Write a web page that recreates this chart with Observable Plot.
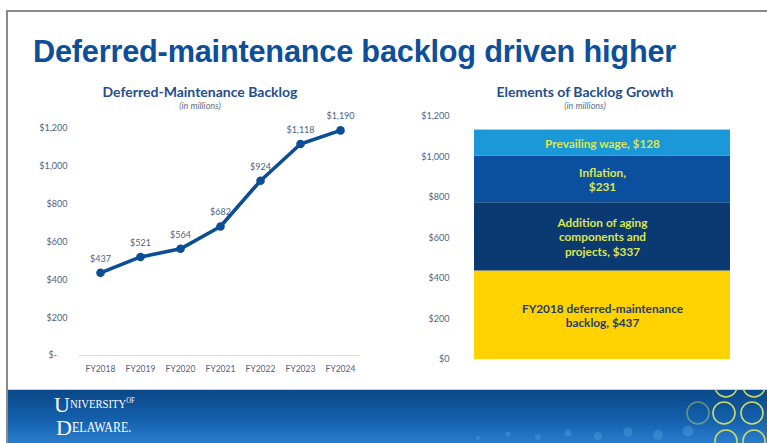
<!DOCTYPE html>
<html>
<head>
<meta charset="utf-8">
<script src="https://cdn.jsdelivr.net/npm/d3@7"></script>
<script src="https://cdn.jsdelivr.net/npm/@observablehq/plot@0.6"></script>
<style>
  html, body { margin: 0; padding: 0; background: #fff; }
  #page { position: relative; width: 767px; height: 443px; overflow: hidden; background: #fff; }
  #slide { position: absolute; left: 6px; top: 10px; width: 780px; height: 460px; border-top: 2px solid #8a8a8a; border-left: 2px solid #8a8a8a; }
  #title { position: absolute; left: 33px; top: 34px; font: bold 30.7px "Liberation Sans", Arial, sans-serif; color: #0d4f9b; letter-spacing: -0.2px; white-space: nowrap; }
  .ctitle { position: absolute; font: bold 14px Lato, sans-serif; color: #1f4e8c; text-align: center; white-space: nowrap; }
  .csub { position: absolute; font: italic 9px Lato, sans-serif; color: #5f6f86; text-align: center; white-space: nowrap; }
  .chart { position: absolute; }
  #footer { position: absolute; left: 8px; top: 389px; width: 760px; height: 54px; border-top: 1px solid #c7d3e2;
    background: linear-gradient(180deg, #0a4888 0%, #1460ad 55%, #2a7fcd 100%); overflow: hidden; }
  #logo { position: absolute; left: 46px; top: 4px; color: #fff; font-family: "Liberation Serif", "DejaVu Serif", serif; }
  #logo span { position: absolute; white-space: nowrap; line-height: 1; }
</style>
</head>
<body>
<div id="page">
  <div id="slide"></div>
  <div id="title">Deferred-maintenance backlog driven higher</div>

  <div class="ctitle" style="left:100px; top:83px; width:200px;">Deferred-Maintenance Backlog</div>
  <div class="csub" style="left:100px; top:100px; width:200px;">(in millions)</div>
  <div class="ctitle" style="left:485px; top:83px; width:200px;">Elements of Backlog Growth</div>
  <div class="csub" style="left:485px; top:100px; width:200px;">(in millions)</div>

  <div id="left" class="chart" style="left:0px; top:110px;"></div>
  <div id="right" class="chart" style="left:400px; top:100px;"></div>

  <div id="footer">
    <svg width="760" height="54" style="position:absolute;left:0;top:0">
      <g fill="#5aa8e6" opacity="0.35">
        <circle cx="470" cy="48" r="2"/><circle cx="500" cy="44" r="2.5"/><circle cx="530" cy="47" r="3"/>
        <circle cx="560" cy="43" r="3.5"/><circle cx="590" cy="46" r="4"/><circle cx="620" cy="42" r="4.5"/>
        <circle cx="650" cy="45" r="5"/><circle cx="680" cy="41" r="5.5"/>
      </g>
      <g fill="none" stroke="#c9dc6a" stroke-width="1.6">
        <circle cx="718" cy="-4" r="11"/><circle cx="746" cy="-4" r="11"/>
        <circle cx="716" cy="23" r="11"/><circle cx="744" cy="23" r="11"/>
        <circle cx="690" cy="23" r="11" opacity="0.45"/>
        <circle cx="718" cy="51" r="11"/><circle cx="746" cy="51" r="11"/>
      </g>
    </svg>
    <div id="logo">
      <span style="left:0; top:0; font-size:22px;">U</span>
      <span style="left:16px; top:3px; font-size:13px; transform:scaleX(0.82); transform-origin:left;">NIVERSITY<span style="font-size:8px">OF</span></span>
      <span style="left:2px; top:23px; font-size:22px;">D</span>
      <span style="left:18px; top:26px; font-size:15px; transform:scaleX(0.8); transform-origin:left;">ELAWARE.</span>
    </div>
  </div>
</div>

<script>
// ---- Data ----
const years = ["FY2018", "FY2019", "FY2020", "FY2021", "FY2022", "FY2023", "FY2024"];
const backlog = [437, 521, 564, 682, 924, 1118, 1190];
const yTicks = [0, 200, 400, 600, 800, 1000, 1200];

const elementLabels = [
  "FY2018 deferred-maintenance\nbacklog, $437",
  "Addition of aging\ncomponents and\nprojects, $337",
  "Inflation,\n$231",
  "Prevailing wage, $128"
];
const elementValues = [437, 337, 231, 128];
const elementColors = ["#ffd200", "#0b3a72", "#0a509f", "#1a98d8"];
const elementTextColors = ["#1f3d70", "#dde54e", "#dde54e", "#dde54e"];

const axisColor = "#4a6488";
const fmtMoney = d3.format(",");

// ---- Left: line chart ----
const lineData = years.map((y, i) => ({year: y, value: backlog[i]}));
const left = Plot.plot({
  width: 380, height: 275,
  marginLeft: 79, marginRight: 20, marginTop: 18, marginBottom: 30,
  style: {fontFamily: "Lato, sans-serif", fontSize: "9px", color: axisColor, background: "transparent"},
  x: {type: "point", domain: years, padding: 0.5, label: null},
  y: {domain: [0, 1200], ticks: yTicks, label: null},
  marks: [
    Plot.axisY({ticks: yTicks, tickSize: 0, tickPadding: 12, label: null,
      tickFormat: d => d === 0 ? "$-\u2007\u2007" : "$" + fmtMoney(d), fill: axisColor, fontSize: 9}),
    Plot.axisX({tickSize: 0, tickPadding: 10, label: null, fill: axisColor, fontSize: 8.5}),
    Plot.ruleY([0], {stroke: "#d9d9d9", strokeWidth: 1}),
    Plot.text(lineData, {x: "year", y: "value", text: d => "$" + fmtMoney(d.value), dy: -14, fill: "#4a6488", fontSize: 9}),
    Plot.line(lineData, {x: "year", y: "value", stroke: "#0b4e96", strokeWidth: 3.6}),
    Plot.dot(lineData, {x: "year", y: "value", fill: "#0b4e96", r: 4.3})
  ]
});
document.getElementById("left").appendChild(left);

// ---- Right: stacked bar ----
const stackData = elementLabels.map((l, i) => ({cat: "total", label: l, value: elementValues[i], color: elementColors[i], tcolor: elementTextColors[i]}));
const right = Plot.plot({
  width: 360, height: 275,
  marginLeft: 74, marginRight: 30, marginTop: 16, marginBottom: 16,
  style: {fontFamily: "Lato, sans-serif", fontSize: "9px", color: axisColor, background: "transparent"},
  x: {type: "band", domain: ["total"], padding: 0, axis: null},
  y: {domain: [0, 1200], label: null},
  marks: [
    Plot.axisY({ticks: yTicks, tickSize: 0, tickPadding: 25, label: null,
      tickFormat: d => "$" + fmtMoney(d), fill: axisColor, fontSize: 9}),
    Plot.barY(stackData, {x: "cat", y: "value", fill: d => d.color, order: null, inset: 0}),
    Plot.text(stackData, Plot.stackY({x: "cat", y: "value", order: null, text: "label",
      fill: d => d.tcolor, fontSize: 11.8, fontWeight: "bold", lineHeight: 1.22, lineAnchor: "middle"}))
  ]
});
document.getElementById("right").appendChild(right);
</script>
</body>
</html>
